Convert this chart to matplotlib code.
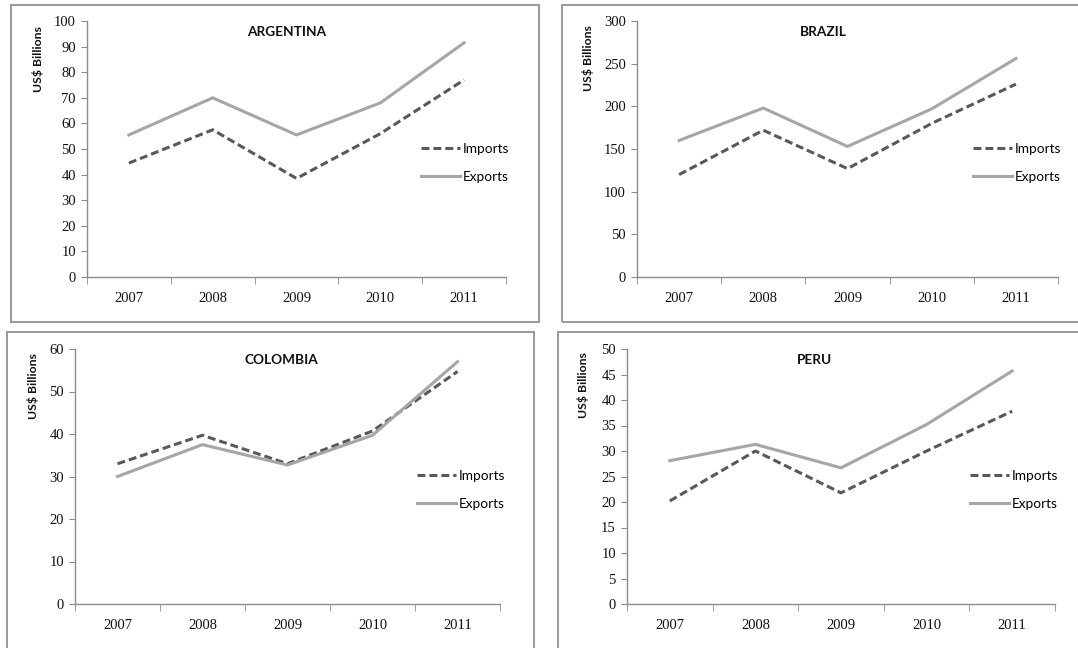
import matplotlib
matplotlib.use("Agg")
import matplotlib.pyplot as plt
from matplotlib.patches import Rectangle
import numpy as np

# datos (miles de millones de US$)
years = ["2007", "2008", "2009", "2010", "2011"]

arg_imports = [44.5, 57.5, 38.5, 56.0, 77.0]
arg_exports = [55.5, 70.0, 55.5, 68.0, 91.5]

bra_imports = [120, 172, 127, 180, 226]
bra_exports = [160, 198, 153, 197, 256]

col_imports = [33.0, 39.7, 33.0, 40.7, 54.7]
col_exports = [30.0, 37.5, 32.7, 39.7, 57.0]

per_imports = [20.2, 30.0, 21.8, 30.0, 37.8]
per_exports = [28.1, 31.3, 26.7, 35.2, 45.7]

W, H = 1078, 648
fig = plt.figure(figsize=(W / 100, H / 100), dpi=100)
fig.patch.set_facecolor("white")

SANS = ["Lato", "DejaVu Sans"]
SERIF = ["Liberation Serif", "DejaVu Serif"]
C_IMP = "#595959"
C_EXP = "#a6a6a6"
C_AX = "#8c8c8c"


def px_box(x0, y0, x1, y1):
    # caja en pixeles (origen arriba a la izquierda) -> fracción de figura
    return [x0 / W, 1 - y1 / H, (x1 - x0) / W, (y1 - y0) / H]


def marco(x0, y0, x1, y1):
    b = px_box(x0, y0, x1, y1)
    fig.add_artist(Rectangle((b[0], b[1]), b[2], b[3], transform=fig.transFigure,
                             fill=False, edgecolor="#999999", linewidth=1.4))


def panel(ax_px, titulo, tit_px, leg_px, ylab_px, imp, exp, ymax, ystep):
    ax = fig.add_axes(px_box(*ax_px))
    x = np.arange(1, len(years) + 1)
    ax.plot(x, imp, color=C_IMP, linewidth=2.2, dashes=(2.6, 1.3), label="Imports")
    ax.plot(x, exp, color=C_EXP, linewidth=2.2, label="Exports")

    ax.set_xlim(0.5, len(years) + 0.5)
    ax.set_ylim(0, ymax)
    ax.set_yticks(np.arange(0, ymax + ystep / 2, ystep))
    ax.set_xticks(x)
    ax.set_xticklabels(years)
    ax.set_xticks(np.arange(0.5, len(years) + 1), minor=True)

    for s in ["top", "right"]:
        ax.spines[s].set_visible(False)
    for s in ["left", "bottom"]:
        ax.spines[s].set_color(C_AX)
        ax.spines[s].set_linewidth(1.0)

    ax.tick_params(axis="x", which="major", length=0, pad=11)
    ax.tick_params(axis="x", which="minor", length=5, color=C_AX, direction="out")
    ax.tick_params(axis="y", length=4, color=C_AX, direction="out", pad=4)
    for lab in ax.get_xticklabels() + ax.get_yticklabels():
        lab.set_fontfamily(SERIF)
        lab.set_fontsize(10.5)
        lab.set_color("#111111")

    # rótulo del eje Y arriba, junto al extremo superior
    fig.text(ylab_px[0] / W, 1 - ylab_px[1] / H, "US$ Billions", rotation=90,
             ha="center", va="top", fontfamily=SANS, fontsize=8.8,
             fontweight="bold", color="#111111")

    fig.text(tit_px[0] / W, 1 - tit_px[1] / H, titulo, ha="center", va="center",
             fontfamily=SANS, fontsize=9.8, fontweight="bold", color="#111111")

    ax.legend(loc="center left", bbox_to_anchor=(leg_px[0] / W, 1 - leg_px[1] / H),
              bbox_transform=fig.transFigure, frameon=False, borderpad=0,
              borderaxespad=0, handlelength=2.9, handletextpad=0.15,
              labelspacing=1.2, prop={"family": SANS, "size": 9.8})
    return ax


marco(11, 5, 539, 322)
marco(562, 5, 1090, 322)
marco(7, 332, 534, 660)
marco(558, 332, 1090, 660)

panel((87, 21, 506, 277), "ARGENTINA", (287, 32), (421, 163), (38, 26),
      arg_imports, arg_exports, 100, 10)
panel((637, 21, 1058, 277), "BRAZIL", (823, 32), (973, 163), (588, 25),
      bra_imports, bra_exports, 300, 50)
panel((75, 349, 500, 604), "COLOMBIA", (281, 360), (417, 490), (33, 353),
      col_imports, col_exports, 60, 10)
panel((627, 349, 1055, 604), "PERU", (814, 360), (970, 490), (583, 352),
      per_imports, per_exports, 50, 5)

fig.savefig("out.png", dpi=100, facecolor="white")
